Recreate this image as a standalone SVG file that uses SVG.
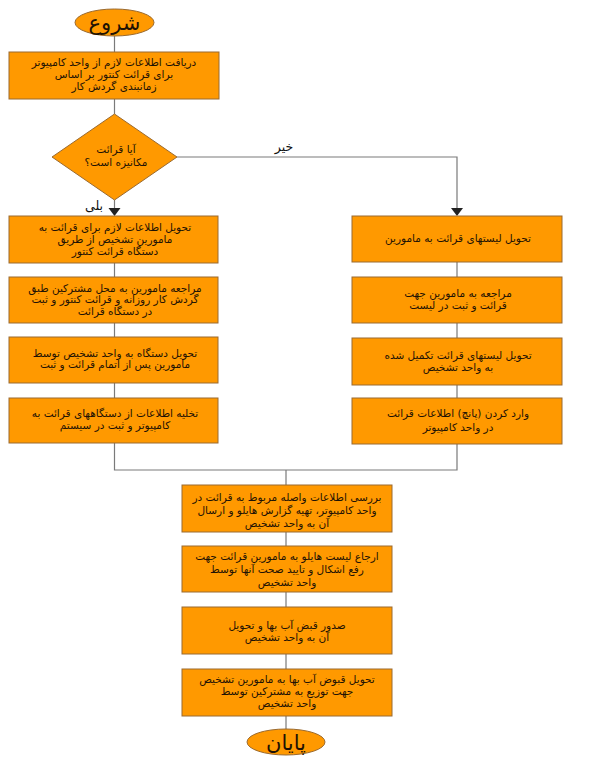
<svg xmlns="http://www.w3.org/2000/svg" width="600" height="762" viewBox="0 0 600 762">
<style>
.n{fill:#FF9900;stroke:#9A6A30;stroke-width:1}
.t{font-family:"DejaVu Sans",sans-serif;font-size:10.5px;fill:#1e1204;text-anchor:middle;direction:rtl}
.big{font-family:"DejaVu Sans",sans-serif;font-size:21px;fill:#1e1204;text-anchor:middle;direction:rtl}
.c{stroke:#7a7a7a;stroke-width:1.2;fill:none}
.lbl{font-family:"DejaVu Sans",sans-serif;font-size:12.5px;fill:#111;text-anchor:middle;direction:rtl}
</style>
<rect width="600" height="762" fill="#fff"/>
<g id="connectors">
<line class="c" x1="114.5" y1="36" x2="114.5" y2="52"/>
<line class="c" x1="114.5" y1="99" x2="114.5" y2="114"/>
<line class="c" x1="114.5" y1="200" x2="114.5" y2="208"/>
<path d="M108.5,208 L120.5,208 L114.5,216 z" fill="#222"/>
<polyline class="c" points="177,157 457,157 457,208"/>
<path d="M451,208 L463,208 L457,216 z" fill="#222"/>
<line class="c" x1="114.5" y1="263" x2="114.5" y2="277"/>
<line class="c" x1="114.5" y1="323" x2="114.5" y2="337"/>
<line class="c" x1="114.5" y1="383" x2="114.5" y2="398"/>
<line class="c" x1="457" y1="262" x2="457" y2="277"/>
<line class="c" x1="457" y1="323" x2="457" y2="338"/>
<line class="c" x1="457" y1="385" x2="457" y2="398"/>
<polyline class="c" points="114.5,443 114.5,470 457,470 457,444"/>
<line class="c" x1="286" y1="470" x2="286" y2="485"/>
<line class="c" x1="286" y1="532" x2="286" y2="546"/>
<line class="c" x1="286" y1="592" x2="286" y2="607"/>
<line class="c" x1="286" y1="654" x2="286" y2="669"/>
<line class="c" x1="286" y1="716" x2="286" y2="729"/>
<text class="lbl" x="284" y="151">خیر</text>
<text class="lbl" x="94" y="210">بلی</text>
</g>
<g id="start">
<ellipse class="n" cx="114.5" cy="22.5" rx="39.5" ry="13.5"/>
<text class="big" x="114.5" y="29.5">شروع</text>
</g>
<g id="n1">
<rect class="n" x="9" y="52" width="210" height="47"/>
<text class="t" x="114" y="66">دریافت اطلاعات لازم از واحد کامپیوتر</text>
<text class="t" x="114" y="78">برای قرائت کنتور بر اساس</text>
<text class="t" x="114" y="90">زمانبندی گردش کار</text>
</g>
<g id="decision">
<polygon class="n" points="114.5,114 177,157 114.5,200 52,157"/>
<text class="t" x="116" y="153">آیا قرائت</text>
<text class="t" x="116" y="166">مکانیزه است؟</text>
</g>
<g id="l1">
<rect class="n" x="9" y="216" width="209" height="47"/>
<text class="t" x="115" y="231">تحویل اطلاعات لازم برای قرائت به</text>
<text class="t" x="115" y="243">مامورین تشخیص از طریق</text>
<text class="t" x="115" y="255">دستگاه قرائت کنتور</text>
</g>
<g id="l2">
<rect class="n" x="9" y="277" width="209" height="46"/>
<text class="t" x="115" y="292">مراجعه مامورین به محل مشترکین طبق</text>
<text class="t" x="115" y="303">گردش کار روزانه و قرائت کنتور و ثبت</text>
<text class="t" x="115" y="315">در دستگاه قرائت</text>
</g>
<g id="l3">
<rect class="n" x="9" y="337" width="209" height="46"/>
<text class="t" x="115" y="357">تحویل دستگاه به واحد تشخیص توسط</text>
<text class="t" x="115" y="368">مامورین پس از اتمام قرائت و ثبت</text>
</g>
<g id="l4">
<rect class="n" x="9" y="398" width="209" height="45"/>
<text class="t" x="115" y="417">تخلیه اطلاعات از دستگاههای قرائت به</text>
<text class="t" x="115" y="429">کامپیوتر و ثبت در سیستم</text>
</g>
<g id="r1">
<rect class="n" x="352" y="216" width="210" height="46"/>
<text class="t" x="458" y="242">تحویل لیستهای قرائت به مامورین</text>
</g>
<g id="r2">
<rect class="n" x="352" y="277" width="210" height="46"/>
<text class="t" x="458" y="297">مراجعه به مامورین جهت</text>
<text class="t" x="458" y="309">قرائت و ثبت در لیست</text>
</g>
<g id="r3">
<rect class="n" x="352" y="338" width="210" height="47"/>
<text class="t" x="458" y="359">تحویل لیستهای قرائت تکمیل شده</text>
<text class="t" x="458" y="371">به واحد تشخیص</text>
</g>
<g id="r4">
<rect class="n" x="352" y="398" width="210" height="46"/>
<text class="t" x="458" y="417">وارد کردن (پانچ) اطلاعات قرائت</text>
<text class="t" x="458" y="431">در واحد کامپیوتر</text>
</g>
<g id="c1">
<rect class="n" x="182" y="485" width="210" height="47"/>
<text class="t" x="287" y="501">بررسی اطلاعات واصله مربوط به قرائت در</text>
<text class="t" x="287" y="514">واحد کامپیوتر، تهیه گزارش هایلو و ارسال</text>
<text class="t" x="287" y="527">آن به واحد تشخیص</text>
</g>
<g id="c2">
<rect class="n" x="182" y="546" width="210" height="46"/>
<text class="t" x="287" y="560">ارجاع لیست هایلو به مامورین قرائت جهت</text>
<text class="t" x="287" y="573">رفع اشکال و تایید صحت آنها توسط</text>
<text class="t" x="287" y="586">واحد تشخیص</text>
</g>
<g id="c3">
<rect class="n" x="182" y="607" width="210" height="47"/>
<text class="t" x="287" y="629">صدور قبض آب بها و تحویل</text>
<text class="t" x="287" y="641">آن به واحد تشخیص</text>
</g>
<g id="c4">
<rect class="n" x="182" y="669" width="210" height="47"/>
<text class="t" x="287" y="683">تحویل قبوض آب بها به مامورین تشخیص</text>
<text class="t" x="287" y="695">جهت توزیع به مشترکین توسط</text>
<text class="t" x="287" y="707">واحد تشخیص</text>
</g>
<g id="end">
<ellipse class="n" cx="286" cy="742" rx="39" ry="13"/>
<text class="big" x="286" y="749.5">پایان</text>
</g>
</svg>
